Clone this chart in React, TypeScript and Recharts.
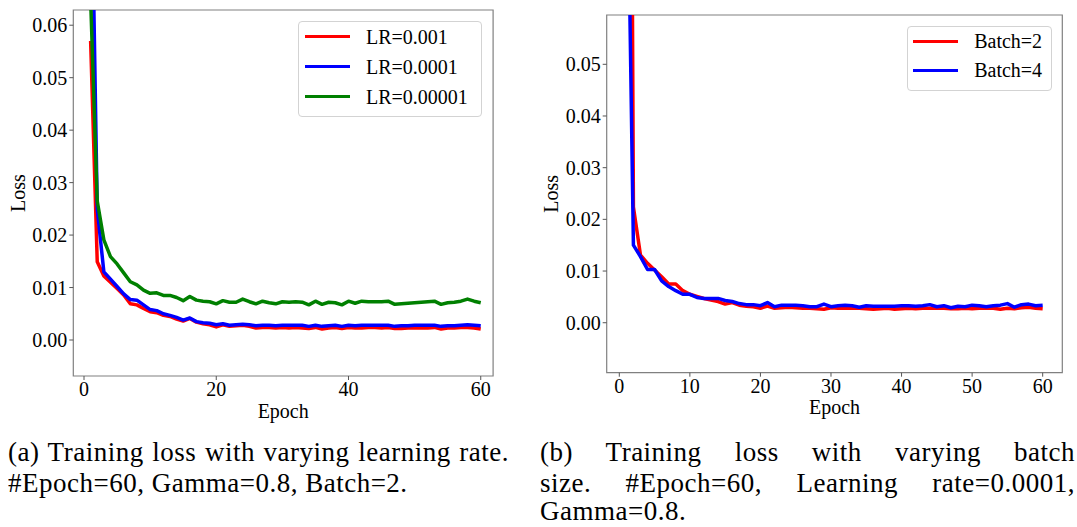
import React from 'react';
import { LineChart, Line, XAxis, YAxis, ReferenceArea, Legend } from 'recharts';

const FONT = "'Liberation Serif', 'Times New Roman', Times, serif";

// Epoch index shared by every run
const epochs = Array.from({ length: 60 }, (_, i) => i + 1);

// Tick labels
const lrTicksX = [0, 20, 40, 60];
const lrTicksY = [0, 0.01, 0.02, 0.03, 0.04, 0.05, 0.06];
const batchTicksX = [0, 10, 20, 30, 40, 50, 60];
const batchTicksY = [0, 0.01, 0.02, 0.03, 0.04, 0.05];

// (a) training loss per epoch for each learning rate (Batch=2)
const lr001 = [
  0.057, 0.0149, 0.0122, 0.011, 0.0098, 0.0086, 0.0069, 0.0067, 0.006, 0.0054,
  0.0052, 0.0047, 0.0045, 0.004, 0.0036, 0.0041, 0.0034, 0.0031, 0.0029, 0.0025,
  0.0029, 0.0026, 0.0027, 0.0028, 0.0026, 0.0023, 0.0024, 0.0024, 0.0023, 0.0024,
  0.0023, 0.0024, 0.0023, 0.0022, 0.0024, 0.0021, 0.0023, 0.0024, 0.0022, 0.0024,
  0.0023, 0.0023, 0.0024, 0.0024, 0.0023, 0.0024, 0.0022, 0.0022, 0.0023, 0.0023,
  0.0023, 0.0023, 0.0024, 0.0021, 0.0023, 0.0023, 0.0024, 0.0024, 0.0023, 0.0021,
];
const lr0001 = [
  0.1, 0.025, 0.013, 0.0116, 0.0102, 0.0088, 0.0077, 0.0076, 0.0067, 0.0058,
  0.0056, 0.005, 0.0047, 0.0043, 0.0038, 0.0042, 0.0035, 0.0033, 0.0032, 0.0029,
  0.0031, 0.0028, 0.0029, 0.003, 0.0029, 0.0027, 0.0028, 0.0028, 0.0027, 0.0028,
  0.0028, 0.0028, 0.0028, 0.0026, 0.0028, 0.0026, 0.0027, 0.0028, 0.0026, 0.0028,
  0.0027, 0.0028, 0.0028, 0.0028, 0.0028, 0.0028, 0.0026, 0.0027, 0.0027, 0.0028,
  0.0028, 0.0028, 0.0028, 0.0026, 0.0027, 0.0027, 0.0028, 0.0029, 0.0028, 0.0027,
];
const lr00001 = [
  0.065, 0.0265, 0.0191, 0.0159, 0.0145, 0.0128, 0.0111, 0.0105, 0.0095, 0.0089,
  0.009, 0.0085, 0.0085, 0.0081, 0.0075, 0.0083, 0.0076, 0.0074, 0.0073, 0.0069,
  0.0075, 0.0072, 0.0072, 0.0078, 0.0073, 0.0069, 0.0074, 0.0071, 0.0069, 0.0073,
  0.0072, 0.0073, 0.0072, 0.0067, 0.0074, 0.0068, 0.0072, 0.0071, 0.0067, 0.0074,
  0.007, 0.0074, 0.0073, 0.0073, 0.0073, 0.0074, 0.0068, 0.0069, 0.007, 0.0071,
  0.0072, 0.0073, 0.0074, 0.0068, 0.0071, 0.0072, 0.0074, 0.0078, 0.0074, 0.0071,
];

// (b) training loss per epoch for each batch size (LR=0.0001)
const batch2 = [
  0.3, 0.0224, 0.0131, 0.0115, 0.0102, 0.0089, 0.0075, 0.0075, 0.0062, 0.0055,
  0.0051, 0.0047, 0.0044, 0.0041, 0.0036, 0.0039, 0.0034, 0.0032, 0.0031, 0.0028,
  0.0032, 0.0028, 0.0029, 0.003, 0.0029, 0.0028, 0.0028, 0.0027, 0.0026, 0.0029,
  0.0028, 0.0028, 0.0028, 0.0028, 0.0027, 0.0026, 0.0027, 0.0028, 0.0026, 0.0027,
  0.0028, 0.0027, 0.0028, 0.0028, 0.0028, 0.0028, 0.0027, 0.0027, 0.0028, 0.0027,
  0.0028, 0.0028, 0.0028, 0.0026, 0.0028, 0.0027, 0.0029, 0.003, 0.0028, 0.0027,
];
const batch4 = [
  0.105, 0.015, 0.0128, 0.0103, 0.0103, 0.0081, 0.007, 0.0062, 0.0055, 0.0055,
  0.0049, 0.0047, 0.0047, 0.0047, 0.0043, 0.0041, 0.0037, 0.0035, 0.0035, 0.0033,
  0.0039, 0.0031, 0.0034, 0.0034, 0.0034, 0.0033, 0.0031, 0.0031, 0.0036, 0.0031,
  0.0033, 0.0034, 0.0033, 0.003, 0.0033, 0.0032, 0.0032, 0.0032, 0.0032, 0.0033,
  0.0033, 0.0032, 0.0033, 0.0035, 0.0031, 0.0033, 0.0029, 0.0032, 0.0031, 0.0034,
  0.0033, 0.0031, 0.0033, 0.0034, 0.0037, 0.003, 0.0035, 0.0036, 0.0033, 0.0034,
];

type Series = { key: string; name: string; color: string; values: number[] };

const lrSeries: Series[] = [
  { key: 'lr001', name: 'LR=0.001', color: '#ff0000', values: lr001 },
  { key: 'lr0001', name: 'LR=0.0001', color: '#0000ff', values: lr0001 },
  { key: 'lr00001', name: 'LR=0.00001', color: '#008000', values: lr00001 },
];
const batchSeries: Series[] = [
  { key: 'b2', name: 'Batch=2', color: '#ff0000', values: batch2 },
  { key: 'b4', name: 'Batch=4', color: '#0000ff', values: batch4 },
];

function buildRows(series: Series[]) {
  return epochs.map((e, i) => {
    const row: Record<string, number> = { epoch: e };
    series.forEach((s) => {
      row[s.key] = s.values[i];
    });
    return row;
  });
}

type LegendBox = {
  x: number; y: number; w: number; h: number;
  padTop: number; rowH: number; lineLeft: number; textLeft: number;
};

type PanelProps = {
  left: number; top: number; width: number; height: number;
  margin: { top: number; right: number; bottom: number; left: number };
  yAxisWidth: number; xAxisHeight: number;
  xDomain: [number, number]; yDomain: [number, number];
  xTicks: number[]; yTicks: number[];
  series: Series[];
  legend: LegendBox;
  epochBaseline: number; lossX: number;
};

const tickStyle = { fontFamily: FONT, fontSize: 20, fill: '#000' };

function LossPanel(p: PanelProps) {
  const data = buildRows(p.series);
  const plotLeft = p.margin.left + p.yAxisWidth;
  const plotW = p.width - plotLeft - p.margin.right;
  const plotTop = p.margin.top;
  const plotH = p.height - p.margin.top - p.margin.bottom - p.xAxisHeight;
  const order = p.series.map((s) => s.name);
  const lg = p.legend;

  const renderLegend = (props: any) => {
    const items = [...(props.payload || [])].sort(
      (a: any, b: any) => order.indexOf(a.value) - order.indexOf(b.value),
    );
    return (
      <div
        style={{
          position: 'relative', width: lg.w, height: lg.h, boxSizing: 'border-box',
          border: '1px solid #d3d3d3', borderRadius: 4, background: 'rgba(255,255,255,0.8)',
          fontFamily: FONT, fontSize: 20, color: '#000',
        }}
      >
        {items.map((it: any, i: number) => (
          <div key={i} style={{ position: 'absolute', left: -1, top: lg.padTop - 1 + i * lg.rowH, height: lg.rowH, width: lg.w }}>
            <div style={{ position: 'absolute', left: lg.lineLeft, top: lg.rowH / 2 - 1.75, width: 45, height: 3.5, background: it.color }} />
            <span style={{ position: 'absolute', left: lg.textLeft, top: 0, lineHeight: lg.rowH + 'px', whiteSpace: 'nowrap' }}>
              {it.value}
            </span>
          </div>
        ))}
      </div>
    );
  };

  return (
    <div style={{ position: 'absolute', left: p.left, top: p.top }}>
      <LineChart width={p.width} height={p.height} data={data} margin={p.margin}>
        <XAxis
          dataKey="epoch" type="number" domain={p.xDomain} ticks={p.xTicks} allowDataOverflow
          interval={0} height={p.xAxisHeight} axisLine={false} tickSize={4}
          tickLine={{ stroke: '#555' }} tick={tickStyle}
          label={{
            content: () => (
              <text x={plotLeft + plotW / 2} y={p.epochBaseline} textAnchor="middle" fontFamily={FONT} fontSize={20} fill="#000">
                Epoch
              </text>
            ),
          }}
        />
        <YAxis
          type="number" domain={p.yDomain} ticks={p.yTicks} allowDataOverflow interval={0}
          width={p.yAxisWidth} axisLine={false} tickSize={4} tickLine={{ stroke: '#555' }}
          tick={tickStyle} tickFormatter={(v: number) => v.toFixed(2)}
          label={{
            content: () => {
              const cy = plotTop + plotH / 2;
              return (
                <text x={p.lossX} y={cy} transform={`rotate(-90, ${p.lossX}, ${cy})`} textAnchor="middle"
                  dominantBaseline="central" fontFamily={FONT} fontSize={20} fill="#000">
                  Loss
                </text>
              );
            },
          }}
        />
        {p.series.map((s) => (
          <Line key={s.key} dataKey={s.key} name={s.name} type="linear" stroke={s.color} strokeWidth={3.5}
            strokeLinejoin="round" dot={false} activeDot={false} isAnimationActive={false} />
        ))}
        <ReferenceArea x1={p.xDomain[0]} x2={p.xDomain[1]} y1={p.yDomain[0]} y2={p.yDomain[1]}
          fill="none" stroke="#808080" strokeWidth={1.2} ifOverflow="visible" />
        <Legend layout="vertical" align="center" verticalAlign="middle" content={renderLegend}
          wrapperStyle={{ left: lg.x, top: lg.y, width: lg.w, height: lg.h }} />
      </LineChart>
    </div>
  );
}

const captionStyle: React.CSSProperties = {
  position: 'absolute', fontFamily: FONT, fontSize: 27, lineHeight: '31px',
  color: '#000', letterSpacing: 0.5,
};
const justified: React.CSSProperties = { textAlign: 'justify', textAlignLast: 'justify' };
// last caption line sits close to the page edge, so its line box is kept short
const lastLine: React.CSSProperties = { lineHeight: '24px' };

export default function App() {
  return (
    <div style={{ position: 'absolute', left: 0, top: 0, width: 1077, height: 527, background: '#fff', overflow: 'hidden' }}>
      <LossPanel
        left={0} top={0} width={500} height={430}
        margin={{ top: 10, right: 6.9, bottom: 0, left: 0 }}
        yAxisWidth={73.3} xAxisHeight={54}
        xDomain={[-1.62, 61.87]} yDomain={[-0.00686, 0.0629]}
        xTicks={lrTicksX} yTicks={lrTicksY} series={lrSeries}
        legend={{ x: 298.2, y: 20.7, w: 184, h: 96, padTop: 1, rowH: 30, lineLeft: 7.2, textLeft: 67.8 }}
        epochBaseline={418.3} lossX={17.5}
      />
      <LossPanel
        left={540} top={0} width={537} height={430}
        margin={{ top: 15, right: 14.7, bottom: 0, left: 0 }}
        yAxisWidth={66.7} xAxisHeight={57.3}
        xDomain={[-1.786, 62.78]} yDomain={[-0.00967, 0.05954]}
        xTicks={batchTicksX} yTicks={batchTicksY} series={batchSeries}
        legend={{ x: 367.1, y: 25.7, w: 145, h: 65, padTop: 1.5, rowH: 29, lineLeft: 6.2, textLeft: 67.1 }}
        epochBaseline={414.3} lossX={11.3}
      />
      <div style={{ ...captionStyle, left: 8, top: 437, width: 501 }}>
        <div style={justified}>(a) Training loss with varying learning rate.</div>
        <div>#Epoch=60, Gamma=0.8, Batch=2.</div>
      </div>
      <div style={{ ...captionStyle, left: 540, top: 437, width: 535 }}>
        <div style={justified}>(b) Training loss with varying batch</div>
        <div style={justified}>size. #Epoch=60, Learning rate=0.0001,</div>
        <div style={lastLine}>Gamma=0.8.</div>
      </div>
    </div>
  );
}
